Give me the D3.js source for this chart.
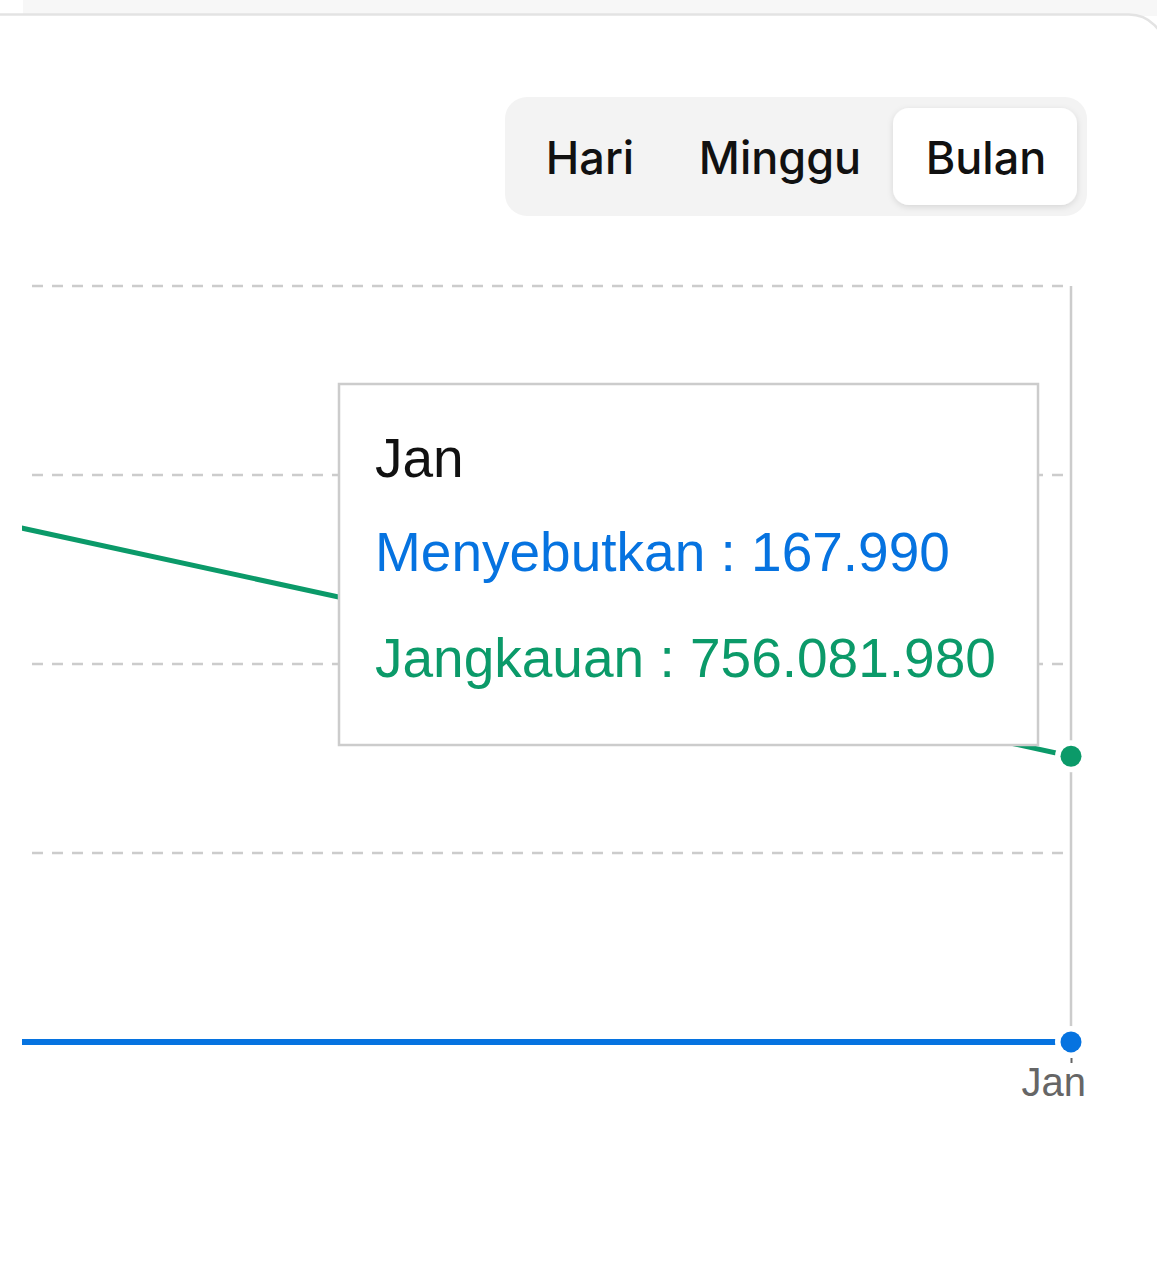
<!DOCTYPE html>
<html>
<head>
<meta charset="utf-8">
<script src="https://cdn.jsdelivr.net/npm/d3@7"></script>
<style>
  html, body { margin: 0; padding: 0; background: #fff; }
  svg { display: block; }
</style>
</head>
<body>
<div id="chart"></div>
<script>
// months shown on the x axis (Des sits left of the visible crop)
const months = ['Des', 'Jan'];
const mentions = [150000, 167990];          // Menyebutkan
const reach = [1395000000, 756081980];      // Jangkauan
const yTicks = [0, 500000000, 1000000000, 1500000000, 2000000000];
const periods = ['Hari', 'Minggu', 'Bulan'];
const activePeriod = 'Bulan';
const hoverMonth = 'Jan';

const width = 1157;
const height = 1284;
const blue = '#0673e0';
const green = '#0b9a69';

const idLocale = d3.formatLocale({decimal: ',', thousands: '.', grouping: [3], currency: ['Rp', '']});
const fmt = idLocale.format(',d');

const svg = d3.select('#chart').append('svg')
  .attr('width', width)
  .attr('height', height)
  .style('font-family', '"Liberation Sans", Arial, sans-serif');

const defs = svg.append('defs');
defs.append('clipPath').attr('id', 'plot-clip')
  .append('rect').attr('x', 22).attr('y', 0).attr('width', width).attr('height', height);
const shadow = defs.append('filter').attr('id', 'btn-shadow')
  .attr('x', '-20%').attr('y', '-20%').attr('width', '140%').attr('height', '150%');
shadow.append('feDropShadow').attr('dx', 0).attr('dy', 2).attr('stdDeviation', 3)
  .attr('flood-color', '#000').attr('flood-opacity', 0.12);

// page strip + card outline
svg.append('rect').attr('x', 23).attr('y', 0).attr('width', width).attr('height', 16).attr('fill', '#f7f7f7');
svg.append('rect')
  .attr('x', -40).attr('y', 14.5).attr('width', width + 48).attr('height', height + 40)
  .attr('rx', 36)
  .attr('fill', '#fff').attr('stroke', '#e3e3e3').attr('stroke-width', 2.5);

// period toggle
const toggle = svg.append('g');
toggle.append('rect')
  .attr('x', 505).attr('y', 97).attr('width', 582).attr('height', 119).attr('rx', 22)
  .attr('fill', '#f3f3f3');
const btnX = d3.scaleOrdinal().domain(periods).range([590, 780, 986]);
toggle.append('rect')
  .attr('x', 893).attr('y', 108).attr('width', 184).attr('height', 97).attr('rx', 16)
  .attr('fill', '#fff').attr('filter', 'url(#btn-shadow)');
toggle.selectAll('text.period').data(periods).join('text')
  .attr('class', 'period')
  .attr('x', d => btnX(d))
  .attr('y', 174)
  .attr('text-anchor', 'middle')
  .style('font-family', 'Inter, "Liberation Sans", sans-serif')
  .style('font-weight', 500)
  .style('font-size', '45px')
  .attr('fill', d => d === activePeriod ? '#111' : '#111')
  .text(d => d);

// scales
const x = d3.scalePoint().domain(months).range([-40, 1071]);
const y = d3.scaleLinear().domain([0, 2000000000]).range([1042, 286]);

const plot = svg.append('g').attr('clip-path', 'url(#plot-clip)');

// grid
plot.append('g').selectAll('line').data(yTicks).join('line')
  .attr('x1', 32).attr('x2', x(hoverMonth))
  .attr('y1', d => y(d)).attr('y2', d => y(d))
  .attr('stroke', '#cccccc').attr('stroke-width', 2.5)
  .attr('stroke-dasharray', '11 9');

// x axis
const xAxis = d3.axisBottom(x).tickSize(5).tickPadding(0).tickFormat(() => '');
const xg = svg.append('g').attr('transform', `translate(0,${y(0) + 16})`).call(xAxis);
xg.select('.domain').remove();
xg.selectAll('.tick line').attr('stroke', '#666').attr('stroke-width', 2);
svg.append('text')
  .attr('x', 1086).attr('y', 1096)
  .attr('text-anchor', 'end')
  .attr('fill', '#666')
  .style('font-size', '40px')
  .text(hoverMonth);

// crosshair
svg.append('line')
  .attr('x1', x(hoverMonth)).attr('x2', x(hoverMonth))
  .attr('y1', y(2000000000)).attr('y2', y(0))
  .attr('stroke', '#cccccc').attr('stroke-width', 2.5);

// series
const series = [
  {name: 'Jangkauan', values: reach, color: green, width: 5},
  {name: 'Menyebutkan', values: mentions, color: blue, width: 6}
];
const line = d3.line()
  .x((d, i) => x(months[i]))
  .y(d => y(d));
plot.selectAll('path.series').data(series).join('path')
  .attr('class', 'series')
  .attr('d', d => line(d.values))
  .attr('fill', 'none')
  .attr('stroke', d => d.color)
  .attr('stroke-width', d => d.width);

// active dots: white halo, coloured centre
const hi = months.indexOf(hoverMonth);
svg.selectAll('circle.halo').data(series).join('circle')
  .attr('class', 'halo')
  .attr('cx', x(hoverMonth))
  .attr('cy', d => y(d.values[hi]))
  .attr('r', 16)
  .attr('fill', '#fff');
svg.selectAll('circle.active').data(series).join('circle')
  .attr('class', 'active')
  .attr('cx', x(hoverMonth))
  .attr('cy', d => y(d.values[hi]))
  .attr('r', 10.5)
  .attr('fill', d => d.color);

// tooltip
const tip = svg.append('g');
tip.append('rect')
  .attr('x', 339).attr('y', 384).attr('width', 699).attr('height', 361)
  .attr('fill', '#fff').attr('stroke', '#cccccc').attr('stroke-width', 2.5);
tip.append('text')
  .attr('x', 375).attr('y', 477)
  .attr('fill', '#111')
  .style('font-size', '55px')
  .text(hoverMonth);
tip.selectAll('text.item').data([series[1], series[0]]).join('text')
  .attr('class', 'item')
  .attr('x', 375)
  .attr('y', (d, i) => 571 + i * 106)
  .attr('fill', d => d.color)
  .style('font-size', '55px')
  .text(d => `${d.name} : ${fmt(d.values[hi])}`);
</script>
</body>
</html>
